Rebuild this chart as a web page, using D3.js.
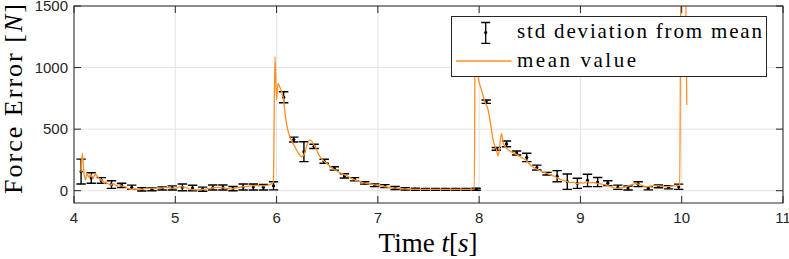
<!DOCTYPE html>
<html><head><meta charset="utf-8">
<script src="https://cdn.jsdelivr.net/npm/d3@7"></script>
<style>
body{margin:0;background:#fff}svg{display:block}
.tick{font-family:"Liberation Sans",Arial,Helvetica,sans-serif;font-size:15px;fill:#262626}
.serif{font-family:"Liberation Serif","Times New Roman",Times,serif;fill:#000}
</style>
</head><body>
<svg id="c" width="789" height="259"></svg>
<script>
// ---- data ----
const xTicks = [4,5,6,7,8,9,10,11];
const yTicks = [0,500,1000,1500];
const lineT = [4.07,4.082,4.097,4.105,4.114,4.122,4.130,4.140,4.150,4.158,4.165,4.173,4.180,4.190,4.197,4.206,4.215,4.222,4.230,4.240,4.247,4.256,4.265,4.272,4.280,4.290,4.300,4.308,4.315,4.322,4.330,4.345,4.365,4.38,4.40,4.415,4.43,4.445,4.46,4.48,4.50,4.53,4.56,4.60,4.66,4.72,4.79,4.85,4.90,4.95,5.00,5.05,5.10,5.15,5.22,5.30,5.35,5.42,5.48,5.55,5.62,5.68,5.78,5.85,5.92,5.955,5.968,5.984,6.0,6.014,6.03,6.063,6.097,6.13,6.18,6.22,6.245,6.27,6.295,6.328,6.378,6.428,6.494,6.576,6.675,6.774,6.872,6.92,7.0,7.05,7.12,7.25,7.4,7.58,7.75,7.9,7.952,7.962,7.99,8.023,8.057,8.089,8.112,8.138,8.171,8.188,8.221,8.238,8.287,8.337,8.403,8.452,8.518,8.584,8.666,8.72,8.748,8.78,8.814,8.85,8.897,8.93,8.963,9.0,9.03,9.06,9.09,9.12,9.16,9.2,9.23,9.26,9.3,9.36,9.40,9.455,9.50,9.55,9.60,9.65,9.70,9.75,9.80,9.85,9.90,9.95,9.98,9.995,10.028,10.05];
const lineV = [150,304,155,110,87,120,141,118,110,128,135,112,118,100,114,130,141,118,120,105,101,92,85,90,73,78,60,72,70,58,60,52,46,58,52,40,46,50,41,38,33,20,11,12,11,19,21,19,27,22,19,33,26,11,6,12,19,27,22,14,26,33,41,40,45,60,70,1089,737,872,845,764,547,439,358,300,276,290,357,412,358,276,223,168,128,87,62,55,42,36,27,15,11,11,11,11,12,1400,926,818,723,655,547,412,331,282,466,385,331,309,276,255,200,168,141,125,114,100,87,80,65,70,58,66,62,73,64,68,60,55,50,46,32,19,22,33,48,58,45,33,38,41,36,33,38,41,46,2200,2200,696];
const errT = [4.07,4.17,4.27,4.37,4.47,4.57,4.67,4.77,4.87,4.97,5.07,5.17,5.27,5.37,5.47,5.57,5.67,5.77,5.87,5.97,6.07,6.17,6.27,6.37,6.47,6.57,6.67,6.77,6.87,6.97,7.07,7.17,7.27,7.37,7.47,7.57,7.67,7.77,7.87,7.97,8.07,8.17,8.27,8.37,8.47,8.57,8.67,8.77,8.87,8.97,9.07,9.17,9.27,9.37,9.47,9.57,9.67,9.77,9.87,9.97];
const errMean = [155,103,83,50,43,28,11,12,18,22,27,22,12,26,26,17,30,30,28,40,759,415,317,360,239,181,120,93,63,44,37,22,15,12,11,11,11,11,11,12,723,340,380,306,270,188,138,118,73,60,83,70,61,28,22,53,20,35,28,32];
const errStd = [101,43,23,31,17,17,14,13,13,17,27,22,17,20,20,17,24,24,22,33,45,20,81,17,16,14,17,13,10,11,12,12,10,8,7,7,7,7,7,8,14,11,23,16,34,20,11,45,62,41,50,37,20,17,16,20,13,11,13,21];
const legendLabels = ["std deviation from mean", "mean value"];

// ---- layout ----
const L = 74, R = 783, T = 6, B = 203;
const svg = d3.select("#c");
const x = d3.scaleLinear().domain([4, 11]).range([L, R]);
const y = d3.scaleLinear().domain([-100, 1500]).range([B, T]);
const axisCol = "#262626", gridCol = "#e3e3e3", orange = "#ff8f22";

// grid
svg.append("g").selectAll("line").data(xTicks).join("line")
  .attr("x1", d => x(d)).attr("x2", d => x(d)).attr("y1", T).attr("y2", B)
  .attr("stroke", gridCol).attr("stroke-width", 1);
svg.append("g").selectAll("line").data(yTicks).join("line")
  .attr("x1", L).attr("x2", R).attr("y1", d => y(d)).attr("y2", d => y(d))
  .attr("stroke", gridCol).attr("stroke-width", 1);

// clip
svg.append("clipPath").attr("id", "clip").append("rect")
  .attr("x", L).attr("y", T).attr("width", R - L).attr("height", B - T);
const plot = svg.append("g").attr("clip-path", "url(#clip)");

// error bars
const eb = errT.map((t, i) => ({t, m: errMean[i], s: errStd[i]}));
const cw = 4.7;
const ebg = plot.append("g").attr("stroke", "#000").attr("stroke-width", 1.4).attr("fill", "none");
ebg.selectAll("path").data(eb).join("path")
  .attr("d", d => {
    const xc = x(d.t), y1 = y(d.m + d.s), y2 = y(d.m - d.s);
    return `M${xc - cw},${y1}H${xc + cw}M${xc},${y1}V${y2}M${xc - cw},${y2}H${xc + cw}`;
  });
plot.append("g").selectAll("circle").data(eb).join("circle")
  .attr("cx", d => x(d.t)).attr("cy", d => y(d.m)).attr("r", 1.6).attr("fill", "#000");

// mean line
const lineData = lineT.map((t, i) => [t, lineV[i]]);
plot.append("path").datum(lineData)
  .attr("d", d3.line().curve(d3.curveMonotoneX).x(d => x(d[0])).y(d => y(d[1])))
  .attr("fill", "none").attr("stroke", orange).attr("stroke-width", 1.3).attr("stroke-linejoin", "round");

// axes box & ticks
const tl = 7;
const ax = svg.append("g").attr("stroke", axisCol).attr("stroke-width", 1).attr("fill", "none");
ax.append("rect").attr("x", L).attr("y", T).attr("width", R - L).attr("height", B - T);
xTicks.forEach(d => {
  ax.append("line").attr("x1", x(d)).attr("x2", x(d)).attr("y1", B).attr("y2", B - tl);
  ax.append("line").attr("x1", x(d)).attr("x2", x(d)).attr("y1", T).attr("y2", T + tl);
});
yTicks.forEach(d => {
  ax.append("line").attr("x1", L).attr("x2", L + tl).attr("y1", y(d)).attr("y2", y(d));
  ax.append("line").attr("x1", R).attr("x2", R - tl).attr("y1", y(d)).attr("y2", y(d));
});

// tick labels
svg.append("g").selectAll("text").data(xTicks).join("text").attr("class", "tick")
  .attr("x", d => x(d)).attr("y", 223).attr("text-anchor", "middle").text(d => d);
svg.append("g").selectAll("text").data(yTicks).join("text").attr("class", "tick")
  .attr("x", 68).attr("y", d => y(d) + 5.3).attr("text-anchor", "end").text(d => d);

// axis titles
const xl = svg.append("text").attr("class", "serif").attr("x", 428).attr("y", 251.5)
  .attr("text-anchor", "middle").style("font-size", "27px");
xl.append("tspan").text("Time ");
xl.append("tspan").style("font-style", "italic").text("t");
xl.append("tspan").text("[");
xl.append("tspan").style("font-style", "italic").text("s");
xl.append("tspan").text("]");

const yl = svg.append("text").attr("class", "serif").attr("transform", "translate(22,99) rotate(-90)")
  .attr("text-anchor", "middle").style("font-size", "26px")
  .attr("textLength", 190).attr("lengthAdjust", "spacing");
yl.append("tspan").text("Force Error [");
yl.append("tspan").style("font-style", "italic").text("N");
yl.append("tspan").text("]");

// legend
const lg = svg.append("g");
lg.append("rect").attr("x", 451.5).attr("y", 16.5).attr("width", 315).attr("height", 60)
  .attr("fill", "#fff").attr("stroke", axisCol).attr("stroke-width", 1);
const lx = 485.7;
lg.append("path").attr("d", `M${lx - 4.5},22.5H${lx + 4.5}M${lx},22.5V43.3M${lx - 4.5},43.3H${lx + 4.5}`)
  .attr("stroke", "#000").attr("stroke-width", 1.3).attr("fill", "none");
lg.append("circle").attr("cx", lx).attr("cy", 32.5).attr("r", 1.6).attr("fill", "#000");
lg.append("line").attr("x1", 456).attr("x2", 511.5).attr("y1", 61).attr("y2", 61)
  .attr("stroke", orange).attr("stroke-width", 1.3);
lg.append("text").attr("class", "serif").attr("x", 517).attr("y", 38.3).style("font-size", "21px")
  .attr("textLength", 245).attr("lengthAdjust", "spacing").text(legendLabels[0]);
lg.append("text").attr("class", "serif").attr("x", 517).attr("y", 66.7).style("font-size", "21px")
  .attr("textLength", 119).attr("lengthAdjust", "spacing").text(legendLabels[1]);
</script>
</body></html>
